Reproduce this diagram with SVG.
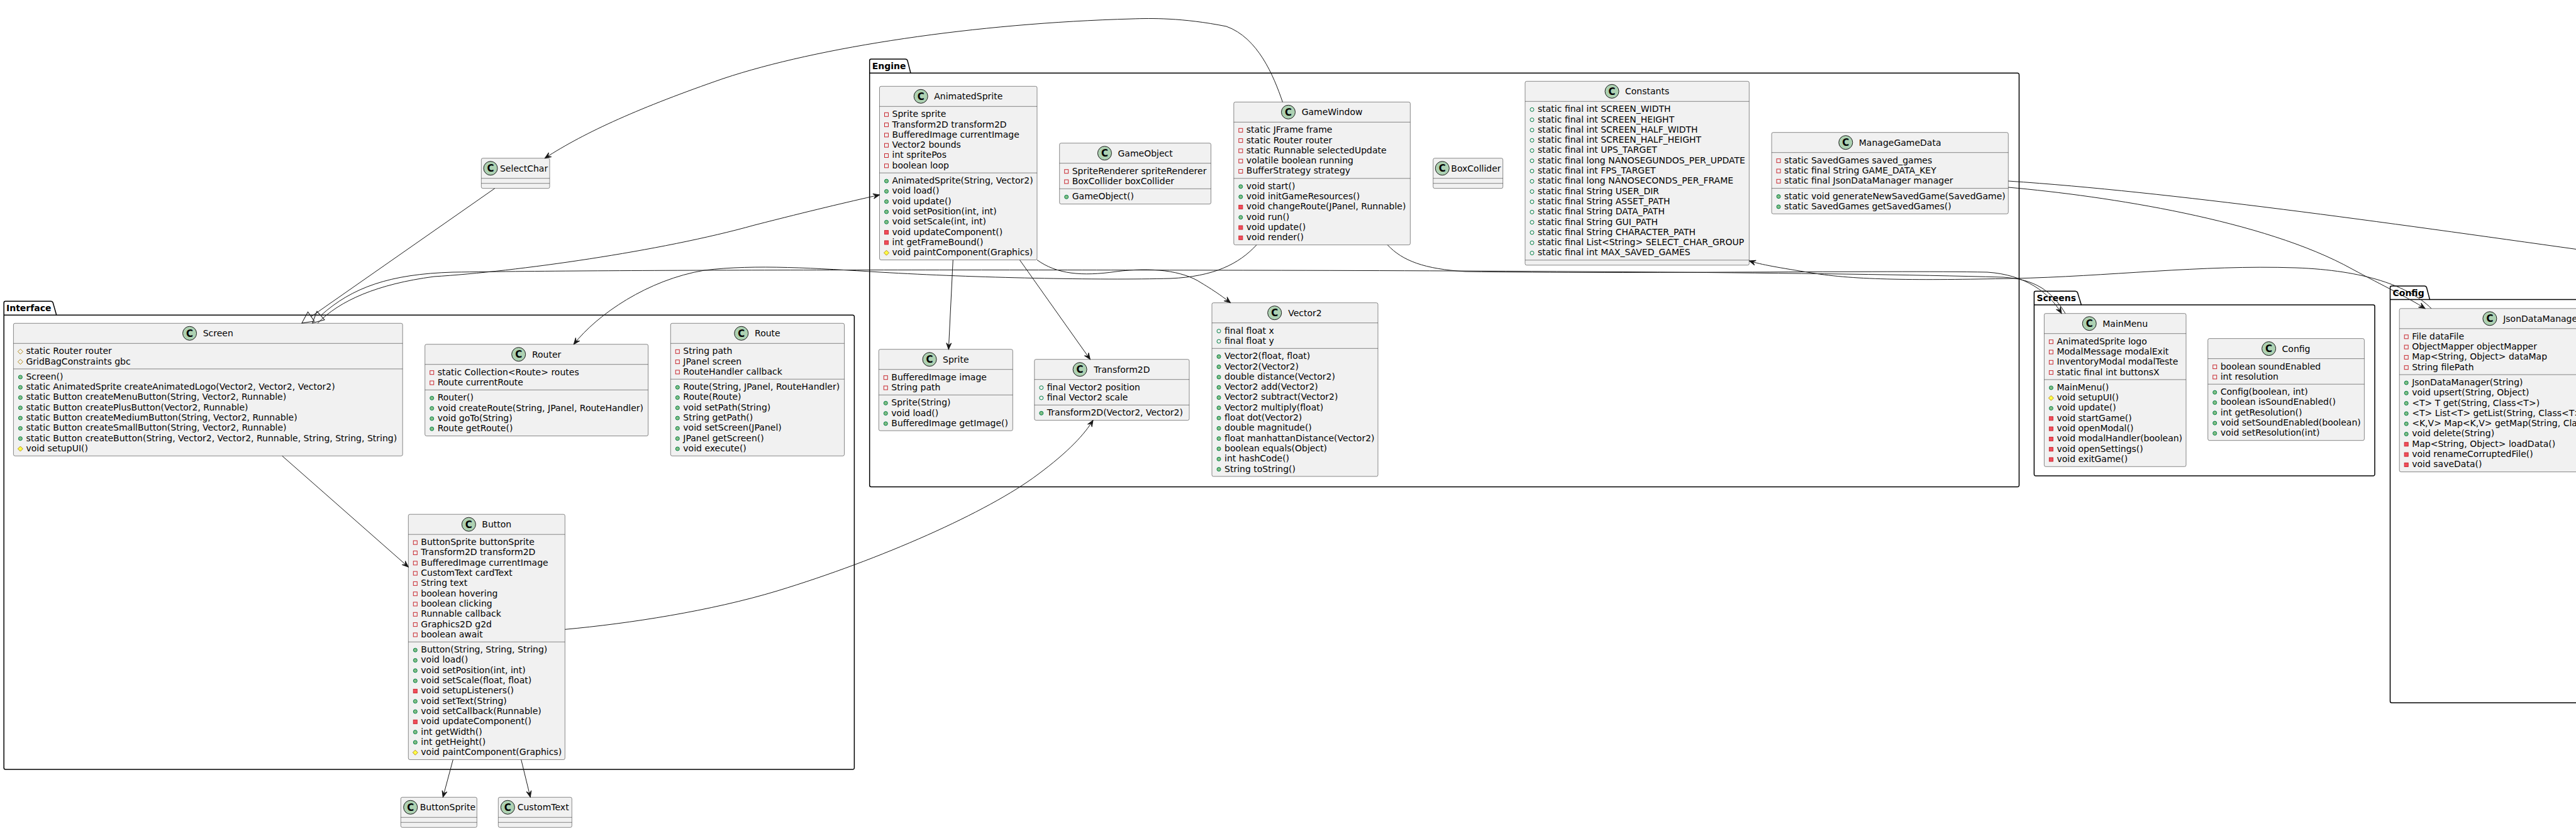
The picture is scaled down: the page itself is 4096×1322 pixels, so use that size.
<svg xmlns="http://www.w3.org/2000/svg" width="4096" height="1322" viewBox="0 0 4096 1322">
<style>
.b{fill:#F1F1F1;stroke:#181818;stroke-width:0.5}
.s{stroke:#181818;stroke-width:0.5}
text{font-family:"DejaVu Sans",Verdana,sans-serif;font-size:14px;fill:#000000}
.nm{text-anchor:middle}
.pk{font-weight:bold}
.pg{fill:none;stroke:#000000;stroke-width:1.5}
.ci{fill:#ADD1B2;stroke:#181818;stroke-width:1}
.cc{font-weight:bold;font-size:15px;text-anchor:middle}
.e{fill:none;stroke:#181818;stroke-width:1}
</style>
<defs>
<circle id="pf" r="3" fill="none" stroke="#038048" stroke-width="1"/>
<circle id="pm" r="3" fill="#84BE84" stroke="#038048" stroke-width="1"/>
<rect id="vf" x="-3" y="-3" width="6" height="6" fill="none" stroke="#C82930" stroke-width="1"/>
<rect id="vm" x="-3" y="-3" width="6" height="6" fill="#F24D5C" stroke="#C82930" stroke-width="1"/>
<polygon id="rf" points="0,-4 4,0 0,4 -4,0" fill="none" stroke="#B38D22" stroke-width="1"/>
<polygon id="rm" points="0,-4 4,0 0,4 -4,0" fill="#FFFF44" stroke="#B38D22" stroke-width="1"/>
<marker id="a" viewBox="-11 -5 12 10" refX="0" refY="0" markerWidth="12" markerHeight="10" markerUnits="userSpaceOnUse" orient="auto"><path d="M0,0 L-10,-4 L-6,0 L-10,4 Z" fill="#181818" stroke="#181818" stroke-width="1"/></marker>
<marker id="t" viewBox="-1 -10 21 20" refX="0" refY="0" markerWidth="21" markerHeight="20" markerUnits="userSpaceOnUse" orient="auto"><path d="M0,-9 L18,0 L0,9 Z" fill="none" stroke="#181818" stroke-width="1"/></marker>
</defs>
<rect width="4096" height="1322" fill="#FFFFFF"/>

<g id="packages">
<g id="pkg-Interface">
<path class="pg" d="M8.7,479.3 L80.8,479.3 A3.75,3.75 0 0 1 84.3,481.8 L89.8,501.3 L1355.9,501.3 A2.5,2.5 0 0 1 1358.4,503.8 L1358.4,1221.5 A2.5,2.5 0 0 1 1355.9,1224 L8.7,1224 A2.5,2.5 0 0 1 6.2,1221.5 L6.2,481.8 A2.5,2.5 0 0 1 8.7,479.3 Z"/>
<line class="pg" x1="6.2" y1="501.3" x2="89.8" y2="501.3"/>
<text class="pk" x="10" y="495.3">Interface</text>
</g>
<g id="pkg-Engine">
<path class="pg" d="M1385.2,94 L1439.5,94 A3.75,3.75 0 0 1 1443,96.5 L1448,116.3 L3208,116.3 A2.5,2.5 0 0 1 3210.5,118.8 L3210.5,771.9 A2.5,2.5 0 0 1 3208,774.4 L1385.2,774.4 A2.5,2.5 0 0 1 1382.7,771.9 L1382.7,96.5 A2.5,2.5 0 0 1 1385.2,94 Z"/>
<line class="pg" x1="1382.7" y1="116.3" x2="1448" y2="116.3"/>
<text class="pk" x="1386.7" y="110">Engine</text>
</g>
<g id="pkg-Screens">
<path class="pg" d="M3236.9,463.3 L3300,463.3 A3.75,3.75 0 0 1 3303.5,465.8 L3309.4,485 L3773.5,485 A2.5,2.5 0 0 1 3776,487.5 L3776,754.5 A2.5,2.5 0 0 1 3773.5,757 L3236.9,757 A2.5,2.5 0 0 1 3234.4,754.5 L3234.4,465.8 A2.5,2.5 0 0 1 3236.9,463.3 Z"/>
<line class="pg" x1="3234.4" y1="485" x2="3309.4" y2="485"/>
<text class="pk" x="3238.4" y="479.3">Screens</text>
</g>
<g id="pkg-Config">
<path class="pg" d="M3803,455 L3855,455 A3.75,3.75 0 0 1 3858.5,457.5 L3863.5,476.6 L4297.5,476.6 A2.5,2.5 0 0 1 4300,479.1 L4300,1115.5 A2.5,2.5 0 0 1 4297.5,1118 L3803,1118 A2.5,2.5 0 0 1 3800.5,1115.5 L3800.5,457.5 A2.5,2.5 0 0 1 3803,455 Z"/>
<line class="pg" x1="3800.5" y1="476.6" x2="3863.5" y2="476.6"/>
<text class="pk" x="3804.5" y="471">Config</text>
</g>
</g>

<g id="Screen" transform="translate(21.4,514.3)">
<rect class="b" width="618.8" height="211" rx="2.5"/>
<circle class="ci" cx="280.15" cy="16" r="11"/><text class="cc" x="280.15" y="21.5">C</text>
<text class="nm" x="325.4" y="21">Screen</text>
<line class="s" x1="0" y1="32" x2="618.8" y2="32"/>
<line class="s" x1="0" y1="72.6" x2="618.8" y2="72.6"/>
<use href="#rf" x="11" y="45"/><text x="20" y="49">static Router router</text>
<use href="#rf" x="11" y="61.3"/><text x="20" y="65.3">GridBagConstraints gbc</text>
<use href="#pm" x="11" y="85.6"/><text x="20" y="89.6">Screen()</text>
<use href="#pm" x="11" y="101.9"/><text x="20" y="105.9">static AnimatedSprite createAnimatedLogo(Vector2, Vector2, Vector2)</text>
<use href="#pm" x="11" y="118.2"/><text x="20" y="122.2">static Button createMenuButton(String, Vector2, Runnable)</text>
<use href="#pm" x="11" y="134.5"/><text x="20" y="138.5">static Button createPlusButton(Vector2, Runnable)</text>
<use href="#pm" x="11" y="150.8"/><text x="20" y="154.8">static Button createMediumButton(String, Vector2, Runnable)</text>
<use href="#pm" x="11" y="167.1"/><text x="20" y="171.1">static Button createSmallButton(String, Vector2, Runnable)</text>
<use href="#pm" x="11" y="183.4"/><text x="20" y="187.4">static Button createButton(String, Vector2, Vector2, Runnable, String, String, String)</text>
<use href="#rm" x="11" y="199.7"/><text x="20" y="203.7">void setupUI()</text>
</g>

<g id="Router" transform="translate(675.7,547.7)">
<rect class="b" width="354.9" height="145.8" rx="2.5"/>
<circle class="ci" cx="148.95" cy="16" r="11"/><text class="cc" x="148.95" y="21.5">C</text>
<text class="nm" x="193.45" y="21">Router</text>
<line class="s" x1="0" y1="32" x2="354.9" y2="32"/>
<line class="s" x1="0" y1="72.6" x2="354.9" y2="72.6"/>
<use href="#vf" x="11" y="45"/><text x="20" y="49">static Collection&lt;Route&gt; routes</text>
<use href="#vf" x="11" y="61.3"/><text x="20" y="65.3">Route currentRoute</text>
<use href="#pm" x="11" y="85.6"/><text x="20" y="89.6">Router()</text>
<use href="#pm" x="11" y="101.9"/><text x="20" y="105.9">void createRoute(String, JPanel, RouteHandler)</text>
<use href="#pm" x="11" y="118.2"/><text x="20" y="122.2">void goTo(String)</text>
<use href="#pm" x="11" y="134.5"/><text x="20" y="138.5">Route getRoute()</text>
</g>

<g id="Route" transform="translate(1066.3,514.3)">
<rect class="b" width="276.2" height="211" rx="2.5"/>
<circle class="ci" cx="112.45" cy="16" r="11"/><text class="cc" x="112.45" y="21.5">C</text>
<text class="nm" x="154.1" y="21">Route</text>
<line class="s" x1="0" y1="32" x2="276.2" y2="32"/>
<line class="s" x1="0" y1="88.9" x2="276.2" y2="88.9"/>
<use href="#vf" x="11" y="45"/><text x="20" y="49">String path</text>
<use href="#vf" x="11" y="61.3"/><text x="20" y="65.3">JPanel screen</text>
<use href="#vf" x="11" y="77.6"/><text x="20" y="81.6">RouteHandler callback</text>
<use href="#pm" x="11" y="101.9"/><text x="20" y="105.9">Route(String, JPanel, RouteHandler)</text>
<use href="#pm" x="11" y="118.2"/><text x="20" y="122.2">Route(Route)</text>
<use href="#pm" x="11" y="134.5"/><text x="20" y="138.5">void setPath(String)</text>
<use href="#pm" x="11" y="150.8"/><text x="20" y="154.8">String getPath()</text>
<use href="#pm" x="11" y="167.1"/><text x="20" y="171.1">void setScreen(JPanel)</text>
<use href="#pm" x="11" y="183.4"/><text x="20" y="187.4">JPanel getScreen()</text>
<use href="#pm" x="11" y="199.7"/><text x="20" y="203.7">void execute()</text>
</g>

<g id="Button" transform="translate(649.3,818.2)">
<rect class="b" width="249" height="390.3" rx="2.5"/>
<circle class="ci" cx="96.05" cy="16" r="11"/><text class="cc" x="96.05" y="21.5">C</text>
<text class="nm" x="140.5" y="21">Button</text>
<line class="s" x1="0" y1="32" x2="249" y2="32"/>
<line class="s" x1="0" y1="203" x2="249" y2="203"/>
<use href="#vf" x="11" y="45"/><text x="20" y="49">ButtonSprite buttonSprite</text>
<use href="#vf" x="11" y="61.3"/><text x="20" y="65.3">Transform2D transform2D</text>
<use href="#vf" x="11" y="77.6"/><text x="20" y="81.6">BufferedImage currentImage</text>
<use href="#vf" x="11" y="93.9"/><text x="20" y="97.9">CustomText cardText</text>
<use href="#vf" x="11" y="110.2"/><text x="20" y="114.2">String text</text>
<use href="#vf" x="11" y="126.5"/><text x="20" y="130.5">boolean hovering</text>
<use href="#vf" x="11" y="142.8"/><text x="20" y="146.8">boolean clicking</text>
<use href="#vf" x="11" y="159.1"/><text x="20" y="163.1">Runnable callback</text>
<use href="#vf" x="11" y="175.4"/><text x="20" y="179.4">Graphics2D g2d</text>
<use href="#vf" x="11" y="191.7"/><text x="20" y="195.7">boolean await</text>
<use href="#pm" x="11" y="216"/><text x="20" y="220">Button(String, String, String)</text>
<use href="#pm" x="11" y="232.3"/><text x="20" y="236.3">void load()</text>
<use href="#pm" x="11" y="248.6"/><text x="20" y="252.6">void setPosition(int, int)</text>
<use href="#pm" x="11" y="264.9"/><text x="20" y="268.9">void setScale(float, float)</text>
<use href="#vm" x="11" y="281.2"/><text x="20" y="285.2">void setupListeners()</text>
<use href="#pm" x="11" y="297.5"/><text x="20" y="301.5">void setText(String)</text>
<use href="#pm" x="11" y="313.8"/><text x="20" y="317.8">void setCallback(Runnable)</text>
<use href="#vm" x="11" y="330.1"/><text x="20" y="334.1">void updateComponent()</text>
<use href="#pm" x="11" y="346.4"/><text x="20" y="350.4">int getWidth()</text>
<use href="#pm" x="11" y="362.7"/><text x="20" y="366.7">int getHeight()</text>
<use href="#rm" x="11" y="379"/><text x="20" y="383">void paintComponent(Graphics)</text>
</g>

<g id="ButtonSprite" transform="translate(637.3,1268.3)">
<rect class="b" width="121" height="48" rx="2.5"/>
<circle class="ci" cx="15.4" cy="16" r="11"/><text class="cc" x="15.4" y="21.5">C</text>
<text x="30.4" y="21">ButtonSprite</text>
<line class="s" x1="0" y1="32" x2="121" y2="32"/>
<line class="s" x1="0" y1="40" x2="121" y2="40"/>
</g>

<g id="CustomText" transform="translate(792.3,1268.3)">
<rect class="b" width="117" height="48" rx="2.5"/>
<circle class="ci" cx="15" cy="16" r="11"/><text class="cc" x="15" y="21.5">C</text>
<text x="30.4" y="21">CustomText</text>
<line class="s" x1="0" y1="32" x2="117" y2="32"/>
<line class="s" x1="0" y1="40" x2="117" y2="40"/>
</g>

<g id="SelectChar" transform="translate(765.3,251.7)">
<rect class="b" width="108.7" height="48" rx="2.5"/>
<circle class="ci" cx="14.7" cy="16" r="11"/><text class="cc" x="14.7" y="21.5">C</text>
<text x="29.7" y="21">SelectChar</text>
<line class="s" x1="0" y1="32" x2="108.7" y2="32"/>
<line class="s" x1="0" y1="40" x2="108.7" y2="40"/>
</g>

<g id="AnimatedSprite" transform="translate(1398.5,137.3)">
<rect class="b" width="250.5" height="276.2" rx="2.5"/>
<circle class="ci" cx="65.7" cy="16" r="11"/><text class="cc" x="65.7" y="21.5">C</text>
<text class="nm" x="141.25" y="21">AnimatedSprite</text>
<line class="s" x1="0" y1="32" x2="250.5" y2="32"/>
<line class="s" x1="0" y1="137.8" x2="250.5" y2="137.8"/>
<use href="#vf" x="11" y="45"/><text x="20" y="49">Sprite sprite</text>
<use href="#vf" x="11" y="61.3"/><text x="20" y="65.3">Transform2D transform2D</text>
<use href="#vf" x="11" y="77.6"/><text x="20" y="81.6">BufferedImage currentImage</text>
<use href="#vf" x="11" y="93.9"/><text x="20" y="97.9">Vector2 bounds</text>
<use href="#vf" x="11" y="110.2"/><text x="20" y="114.2">int spritePos</text>
<use href="#vf" x="11" y="126.5"/><text x="20" y="130.5">boolean loop</text>
<use href="#pm" x="11" y="150.8"/><text x="20" y="154.8">AnimatedSprite(String, Vector2)</text>
<use href="#pm" x="11" y="167.1"/><text x="20" y="171.1">void load()</text>
<use href="#pm" x="11" y="183.4"/><text x="20" y="187.4">void update()</text>
<use href="#pm" x="11" y="199.7"/><text x="20" y="203.7">void setPosition(int, int)</text>
<use href="#pm" x="11" y="216"/><text x="20" y="220">void setScale(int, int)</text>
<use href="#vm" x="11" y="232.3"/><text x="20" y="236.3">void updateComponent()</text>
<use href="#vm" x="11" y="248.6"/><text x="20" y="252.6">int getFrameBound()</text>
<use href="#rm" x="11" y="264.9"/><text x="20" y="268.9">void paintComponent(Graphics)</text>
</g>

<g id="GameObject" transform="translate(1684.7,227.7)">
<rect class="b" width="240.8" height="96.9" rx="2.5"/>
<circle class="ci" cx="71.75" cy="16" r="11"/><text class="cc" x="71.75" y="21.5">C</text>
<text class="nm" x="136.4" y="21">GameObject</text>
<line class="s" x1="0" y1="32" x2="240.8" y2="32"/>
<line class="s" x1="0" y1="72.6" x2="240.8" y2="72.6"/>
<use href="#vf" x="11" y="45"/><text x="20" y="49">SpriteRenderer spriteRenderer</text>
<use href="#vf" x="11" y="61.3"/><text x="20" y="65.3">BoxCollider boxCollider</text>
<use href="#pm" x="11" y="85.6"/><text x="20" y="89.6">GameObject()</text>
</g>

<g id="GameWindow" transform="translate(1961.8,162.3)">
<rect class="b" width="280.6" height="227.3" rx="2.5"/>
<circle class="ci" cx="86.7" cy="16" r="11"/><text class="cc" x="86.7" y="21.5">C</text>
<text class="nm" x="156.3" y="21">GameWindow</text>
<line class="s" x1="0" y1="32" x2="280.6" y2="32"/>
<line class="s" x1="0" y1="121.5" x2="280.6" y2="121.5"/>
<use href="#vf" x="11" y="45"/><text x="20" y="49">static JFrame frame</text>
<use href="#vf" x="11" y="61.3"/><text x="20" y="65.3">static Router router</text>
<use href="#vf" x="11" y="77.6"/><text x="20" y="81.6">static Runnable selectedUpdate</text>
<use href="#vf" x="11" y="93.9"/><text x="20" y="97.9">volatile boolean running</text>
<use href="#vf" x="11" y="110.2"/><text x="20" y="114.2">BufferStrategy strategy</text>
<use href="#pm" x="11" y="134.5"/><text x="20" y="138.5">void start()</text>
<use href="#pm" x="11" y="150.8"/><text x="20" y="154.8">void initGameResources()</text>
<use href="#vm" x="11" y="167.1"/><text x="20" y="171.1">void changeRoute(JPanel, Runnable)</text>
<use href="#pm" x="11" y="183.4"/><text x="20" y="187.4">void run()</text>
<use href="#vm" x="11" y="199.7"/><text x="20" y="203.7">void update()</text>
<use href="#vm" x="11" y="216"/><text x="20" y="220">void render()</text>
</g>

<g id="BoxCollider" transform="translate(2278.8,251.7)">
<rect class="b" width="110.9" height="48" rx="2.5"/>
<circle class="ci" cx="14.5" cy="16" r="11"/><text class="cc" x="14.5" y="21.5">C</text>
<text x="28.5" y="21">BoxCollider</text>
<line class="s" x1="0" y1="32" x2="110.9" y2="32"/>
<line class="s" x1="0" y1="40" x2="110.9" y2="40"/>
</g>

<g id="Constants" transform="translate(2425,129.3)">
<rect class="b" width="356.3" height="292.5" rx="2.5"/>
<circle class="ci" cx="138.05" cy="16" r="11"/><text class="cc" x="138.05" y="21.5">C</text>
<text class="nm" x="194.15" y="21">Constants</text>
<line class="s" x1="0" y1="32" x2="356.3" y2="32"/>
<line class="s" x1="0" y1="284.5" x2="356.3" y2="284.5"/>
<use href="#pf" x="11" y="45"/><text x="20" y="49">static final int SCREEN_WIDTH</text>
<use href="#pf" x="11" y="61.3"/><text x="20" y="65.3">static final int SCREEN_HEIGHT</text>
<use href="#pf" x="11" y="77.6"/><text x="20" y="81.6">static final int SCREEN_HALF_WIDTH</text>
<use href="#pf" x="11" y="93.9"/><text x="20" y="97.9">static final int SCREEN_HALF_HEIGHT</text>
<use href="#pf" x="11" y="110.2"/><text x="20" y="114.2">static final int UPS_TARGET</text>
<use href="#pf" x="11" y="126.5"/><text x="20" y="130.5">static final long NANOSEGUNDOS_PER_UPDATE</text>
<use href="#pf" x="11" y="142.8"/><text x="20" y="146.8">static final int FPS_TARGET</text>
<use href="#pf" x="11" y="159.1"/><text x="20" y="163.1">static final long NANOSECONDS_PER_FRAME</text>
<use href="#pf" x="11" y="175.4"/><text x="20" y="179.4">static final String USER_DIR</text>
<use href="#pf" x="11" y="191.7"/><text x="20" y="195.7">static final String ASSET_PATH</text>
<use href="#pf" x="11" y="208"/><text x="20" y="212">static final String DATA_PATH</text>
<use href="#pf" x="11" y="224.3"/><text x="20" y="228.3">static final String GUI_PATH</text>
<use href="#pf" x="11" y="240.6"/><text x="20" y="244.6">static final String CHARACTER_PATH</text>
<use href="#pf" x="11" y="256.9"/><text x="20" y="260.9">static final List&lt;String&gt; SELECT_CHAR_GROUP</text>
<use href="#pf" x="11" y="273.2"/><text x="20" y="277.2">static final int MAX_SAVED_GAMES</text>
</g>

<g id="ManageGameData" transform="translate(2817,210.7)">
<rect class="b" width="376.3" height="129.5" rx="2.5"/>
<circle class="ci" cx="117.8" cy="16" r="11"/><text class="cc" x="117.8" y="21.5">C</text>
<text class="nm" x="204.15" y="21">ManageGameData</text>
<line class="s" x1="0" y1="32" x2="376.3" y2="32"/>
<line class="s" x1="0" y1="88.9" x2="376.3" y2="88.9"/>
<use href="#vf" x="11" y="45"/><text x="20" y="49">static SavedGames saved_games</text>
<use href="#vf" x="11" y="61.3"/><text x="20" y="65.3">static final String GAME_DATA_KEY</text>
<use href="#vf" x="11" y="77.6"/><text x="20" y="81.6">static final JsonDataManager manager</text>
<use href="#pm" x="11" y="101.9"/><text x="20" y="105.9">static void generateNewSavedGame(SavedGame)</text>
<use href="#pm" x="11" y="118.2"/><text x="20" y="122.2">static SavedGames getSavedGames()</text>
</g>

<g id="Sprite" transform="translate(1397.3,555.7)">
<rect class="b" width="213" height="129.5" rx="2.5"/>
<circle class="ci" cx="80.75" cy="16" r="11"/><text class="cc" x="80.75" y="21.5">C</text>
<text class="nm" x="122.5" y="21">Sprite</text>
<line class="s" x1="0" y1="32" x2="213" y2="32"/>
<line class="s" x1="0" y1="72.6" x2="213" y2="72.6"/>
<use href="#vf" x="11" y="45"/><text x="20" y="49">BufferedImage image</text>
<use href="#vf" x="11" y="61.3"/><text x="20" y="65.3">String path</text>
<use href="#pm" x="11" y="85.6"/><text x="20" y="89.6">Sprite(String)</text>
<use href="#pm" x="11" y="101.9"/><text x="20" y="105.9">void load()</text>
<use href="#pm" x="11" y="118.2"/><text x="20" y="122.2">BufferedImage getImage()</text>
</g>

<g id="Transform2D" transform="translate(1644.8,571.7)">
<rect class="b" width="246.2" height="96.9" rx="2.5"/>
<circle class="ci" cx="72.3" cy="16" r="11"/><text class="cc" x="72.3" y="21.5">C</text>
<text class="nm" x="139.1" y="21">Transform2D</text>
<line class="s" x1="0" y1="32" x2="246.2" y2="32"/>
<line class="s" x1="0" y1="72.6" x2="246.2" y2="72.6"/>
<use href="#pf" x="11" y="45"/><text x="20" y="49">final Vector2 position</text>
<use href="#pf" x="11" y="61.3"/><text x="20" y="65.3">final Vector2 scale</text>
<use href="#pm" x="11" y="85.6"/><text x="20" y="89.6">Transform2D(Vector2, Vector2)</text>
</g>

<g id="Vector2" transform="translate(1927,481.7)">
<rect class="b" width="264" height="276.2" rx="2.5"/>
<circle class="ci" cx="99.7" cy="16" r="11"/><text class="cc" x="99.7" y="21.5">C</text>
<text class="nm" x="148" y="21">Vector2</text>
<line class="s" x1="0" y1="32" x2="264" y2="32"/>
<line class="s" x1="0" y1="72.6" x2="264" y2="72.6"/>
<use href="#pf" x="11" y="45"/><text x="20" y="49">final float x</text>
<use href="#pf" x="11" y="61.3"/><text x="20" y="65.3">final float y</text>
<use href="#pm" x="11" y="85.6"/><text x="20" y="89.6">Vector2(float, float)</text>
<use href="#pm" x="11" y="101.9"/><text x="20" y="105.9">Vector2(Vector2)</text>
<use href="#pm" x="11" y="118.2"/><text x="20" y="122.2">double distance(Vector2)</text>
<use href="#pm" x="11" y="134.5"/><text x="20" y="138.5">Vector2 add(Vector2)</text>
<use href="#pm" x="11" y="150.8"/><text x="20" y="154.8">Vector2 subtract(Vector2)</text>
<use href="#pm" x="11" y="167.1"/><text x="20" y="171.1">Vector2 multiply(float)</text>
<use href="#pm" x="11" y="183.4"/><text x="20" y="187.4">float dot(Vector2)</text>
<use href="#pm" x="11" y="199.7"/><text x="20" y="203.7">double magnitude()</text>
<use href="#pm" x="11" y="216"/><text x="20" y="220">float manhattanDistance(Vector2)</text>
<use href="#pm" x="11" y="232.3"/><text x="20" y="236.3">boolean equals(Object)</text>
<use href="#pm" x="11" y="248.6"/><text x="20" y="252.6">int hashCode()</text>
<use href="#pm" x="11" y="264.9"/><text x="20" y="268.9">String toString()</text>
</g>

<g id="MainMenu" transform="translate(3250.4,498.7)">
<rect class="b" width="225.6" height="243.6" rx="2.5"/>
<circle class="ci" cx="71.85" cy="16" r="11"/><text class="cc" x="71.85" y="21.5">C</text>
<text class="nm" x="128.8" y="21">MainMenu</text>
<line class="s" x1="0" y1="32" x2="225.6" y2="32"/>
<line class="s" x1="0" y1="105.2" x2="225.6" y2="105.2"/>
<use href="#vf" x="11" y="45"/><text x="20" y="49">AnimatedSprite logo</text>
<use href="#vf" x="11" y="61.3"/><text x="20" y="65.3">ModalMessage modalExit</text>
<use href="#vf" x="11" y="77.6"/><text x="20" y="81.6">InventoryModal modalTeste</text>
<use href="#vf" x="11" y="93.9"/><text x="20" y="97.9">static final int buttonsX</text>
<use href="#pm" x="11" y="118.2"/><text x="20" y="122.2">MainMenu()</text>
<use href="#rm" x="11" y="134.5"/><text x="20" y="138.5">void setupUI()</text>
<use href="#pm" x="11" y="150.8"/><text x="20" y="154.8">void update()</text>
<use href="#vm" x="11" y="167.1"/><text x="20" y="171.1">void startGame()</text>
<use href="#vm" x="11" y="183.4"/><text x="20" y="187.4">void openModal()</text>
<use href="#vm" x="11" y="199.7"/><text x="20" y="203.7">void modalHandler(boolean)</text>
<use href="#vm" x="11" y="216"/><text x="20" y="220">void openSettings()</text>
<use href="#vm" x="11" y="232.3"/><text x="20" y="236.3">void exitGame()</text>
</g>

<g id="Config" transform="translate(3510.7,538.6)">
<rect class="b" width="248.7" height="162.1" rx="2.5"/>
<circle class="ci" cx="96.9" cy="16" r="11"/><text class="cc" x="96.9" y="21.5">C</text>
<text class="nm" x="140.35" y="21">Config</text>
<line class="s" x1="0" y1="32" x2="248.7" y2="32"/>
<line class="s" x1="0" y1="72.6" x2="248.7" y2="72.6"/>
<use href="#vf" x="11" y="45"/><text x="20" y="49">boolean soundEnabled</text>
<use href="#vf" x="11" y="61.3"/><text x="20" y="65.3">int resolution</text>
<use href="#pm" x="11" y="85.6"/><text x="20" y="89.6">Config(boolean, int)</text>
<use href="#pm" x="11" y="101.9"/><text x="20" y="105.9">boolean isSoundEnabled()</text>
<use href="#pm" x="11" y="118.2"/><text x="20" y="122.2">int getResolution()</text>
<use href="#pm" x="11" y="134.5"/><text x="20" y="138.5">void setSoundEnabled(boolean)</text>
<use href="#pm" x="11" y="150.8"/><text x="20" y="154.8">void setResolution(int)</text>
</g>

<g id="JsonDataManager" transform="translate(3815.2,490.8)">
<rect class="b" width="421" height="259.9" rx="2.5"/>
<circle class="ci" cx="143.7" cy="16" r="11"/><text class="cc" x="143.7" y="21.5">C</text>
<text x="165" y="21">JsonDataManager</text>
<line class="s" x1="0" y1="32" x2="421" y2="32"/>
<line class="s" x1="0" y1="105.2" x2="421" y2="105.2"/>
<use href="#vf" x="11" y="45"/><text x="20" y="49">File dataFile</text>
<use href="#vf" x="11" y="61.3"/><text x="20" y="65.3">ObjectMapper objectMapper</text>
<use href="#vf" x="11" y="77.6"/><text x="20" y="81.6">Map&lt;String, Object&gt; dataMap</text>
<use href="#vf" x="11" y="93.9"/><text x="20" y="97.9">String filePath</text>
<use href="#pm" x="11" y="118.2"/><text x="20" y="122.2">JsonDataManager(String)</text>
<use href="#pm" x="11" y="134.5"/><text x="20" y="138.5">void upsert(String, Object)</text>
<use href="#pm" x="11" y="150.8"/><text x="20" y="154.8">&lt;T&gt; T get(String, Class&lt;T&gt;)</text>
<use href="#pm" x="11" y="167.1"/><text x="20" y="171.1">&lt;T&gt; List&lt;T&gt; getList(String, Class&lt;T&gt;)</text>
<use href="#pm" x="11" y="183.4"/><text x="20" y="187.4">&lt;K,V&gt; Map&lt;K,V&gt; getMap(String, Class&lt;K&gt;, Class&lt;V&gt;)</text>
<use href="#pm" x="11" y="199.7"/><text x="20" y="203.7">void delete(String)</text>
<use href="#vm" x="11" y="216"/><text x="20" y="220">Map&lt;String, Object&gt; loadData()</text>
<use href="#vm" x="11" y="232.3"/><text x="20" y="236.3">void renameCorruptedFile()</text>
<use href="#vm" x="11" y="248.6"/><text x="20" y="252.6">void saveData()</text>
</g>

<g id="connectors">
<path class="e" marker-end="url(#a)" d="M2039.4,162.3 C2025,120 2000,60 1950,42 C1880,28 1830,29 1800,30 C1550,37 1300,75 1150,125 C1020,170 930,210 866.3,251.7"/>
<path class="e" marker-end="url(#t)" d="M786.7,299.7 L494.7,503.7"/>
<path class="e" marker-end="url(#t)" d="M3284,498.7 C3262,462 3235,444 3185,441 C2900,433 2400,431 2000,430 C1500,429 1000,429 720,433 C620,436 560,457 510,502"/>
<path class="e" marker-end="url(#a)" d="M505,514.3 C540,478 600,452 690,440 C820,432 1050,400 1200,358 C1290,335 1345,322 1398.5,310"/>
<path class="e" marker-end="url(#a)" d="M448.7,725.3 L649.3,902"/>
<path class="e" marker-end="url(#a)" d="M720.3,1208.5 L704.3,1268.3"/>
<path class="e" marker-end="url(#a)" d="M828.7,1208.5 L843.3,1268.3"/>
<path class="e" marker-end="url(#a)" d="M898.3,1001.3 C1000,992 1130,972 1236,940 C1400,890 1570,815 1650,755 C1700,718 1725,690 1738,668.6"/>
<path class="e" marker-end="url(#a)" d="M1515.3,413.5 L1508.3,555.7"/>
<path class="e" marker-end="url(#a)" d="M1621.4,413.5 L1733.4,571.7"/>
<path class="e" marker-end="url(#a)" d="M1649,413.5 C1680,436 1720,440 1775,432 C1830,425 1880,430 1910,450 C1935,465 1948,475 1956.6,481.7"/>
<path class="e" marker-end="url(#a)" d="M1998,389.6 C1970,420 1930,440 1861,443 C1750,446 1550,442 1400,433 C1300,427 1200,420 1120,430 C1030,445 950,500 912.3,547.7"/>
<path class="e" marker-end="url(#a)" d="M2206.2,389.6 C2230,415 2265,428 2330,432 C2600,436 3000,430 3160,433 C3220,437 3258,465 3278,498.7"/>
<path class="e" marker-end="url(#a)" d="M3866,490.8 C3830,455 3760,430 3650,426 C3500,421 3350,440 3200,443 C3050,446 2950,446 2880,434 C2830,426 2800,421 2781.5,415"/>
<path class="e" marker-end="url(#a)" d="M3193.3,298 C3350,312 3600,350 3740,428 C3790,455 3830,474 3856,490.8"/>
<path class="e" d="M3193.3,288 C3450,305 3800,355 4100,397 C4200,411 4300,425 4400,440"/>
</g>
</svg>
